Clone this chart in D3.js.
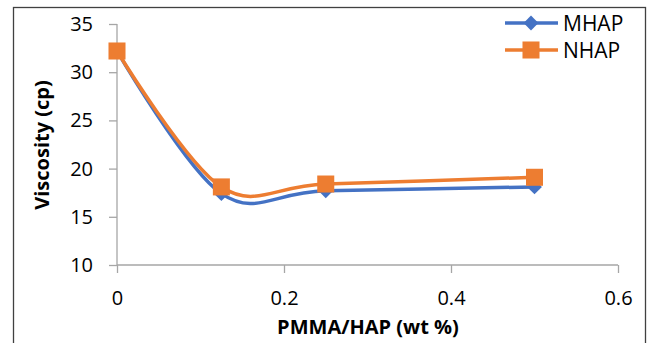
<!DOCTYPE html>
<html>
<head>
<meta charset="utf-8">
<script src="https://d3js.org/d3.v7.min.js"></script>
<style>
  html, body { margin: 0; padding: 0; background: #fff; }
  text { font-family: "Open Sans", sans-serif; }
  .axis path, .axis line { stroke: #a6a6a6; stroke-width: 1.3px; }
  .axis text { font-size: 20px; fill: #000; }
</style>
</head>
<body>
<script>
var xVals = [0, 0.125, 0.25, 0.5];
var mhap = [32.2, 17.4, 17.7, 18.1];
var nhap = [32.2, 18.1, 18.4, 19.1];
var seriesNames = ["MHAP", "NHAP"];
var colors = ["#4472C4", "#ED7D31"];
var xTicks = [0, 0.2, 0.4, 0.6];
var yTicks = [10, 15, 20, 25, 30, 35];

var W = 651, H = 343;
var svg = d3.select("body").append("svg").attr("width", W).attr("height", H);

svg.append("rect").attr("x", 13.5).attr("y", 7.5).attr("width", 632).attr("height", 345)
  .attr("fill", "none").attr("stroke", "#404040").attr("stroke-width", 1.3);

var x = d3.scaleLinear().domain([0, 0.6]).range([117, 618]);
var y = d3.scaleLinear().domain([10, 35]).range([265, 24]);

var xAxis = svg.append("g").attr("class", "axis").attr("transform", "translate(0,265)")
  .call(d3.axisBottom(x).tickValues(xTicks).tickSize(8).tickPadding(18)
    .tickFormat(function(d){ return d === 0 ? "0" : d3.format(".1f")(d); }));
xAxis.select(".domain").attr("d", "M" + x(0) + ",0H" + x(0.6));

var yAxis = svg.append("g").attr("class", "axis").attr("transform", "translate(117,0)")
  .call(d3.axisLeft(y).tickValues(yTicks).tickSize(8).tickPadding(16));
yAxis.select(".domain").attr("d", "M0," + y(10) + "V" + y(35));

var line = d3.line().x(function(d){ return x(d[0]); }).y(function(d){ return y(d[1]); })
  .curve(d3.curveCardinal.tension(0));

function marker(i) {
  return i === 0 ? d3.symbol().type(d3.symbolDiamond2).size(140)()
                 : d3.symbol().type(d3.symbolSquare).size(290)();
}

var data = [mhap, nhap];
data.forEach(function(vals, i) {
  var pts = xVals.map(function(v, j){ return [v, vals[j]]; });
  svg.append("path").attr("d", line(pts)).attr("fill", "none")
    .attr("stroke", colors[i]).attr("stroke-width", 3.5);
});
data.forEach(function(vals, i) {
  var pts = xVals.map(function(v, j){ return [v, vals[j]]; });
  svg.selectAll(null).data(pts).enter().append("path")
    .attr("transform", function(d){ return "translate(" + x(d[0]) + "," + y(d[1]) + ")"; })
    .attr("d", marker(i))
    .attr("fill", colors[i]);
});

// legend
seriesNames.forEach(function(name, i) {
  var ly = 23 + i * 27;
  svg.append("line").attr("x1", 505).attr("x2", 558).attr("y1", ly).attr("y2", ly)
    .attr("stroke", colors[i]).attr("stroke-width", 3.5);
  svg.append("path").attr("transform", "translate(531," + ly + ")")
    .attr("d", marker(i)).attr("fill", colors[i]);
  svg.append("text").attr("x", 563).attr("y", ly).attr("dy", "0.36em")
    .attr("font-size", 21).text(name);
});

svg.append("text").attr("x", 368).attr("y", 334).attr("text-anchor", "middle")
  .attr("font-size", 20).attr("font-weight", "bold").text("PMMA/HAP (wt %)");
svg.append("text").attr("transform", "translate(49,145) rotate(-90)").attr("text-anchor", "middle")
  .attr("font-size", 20).attr("font-weight", "bold").text("Viscosity (cp)");
</script>
</body>
</html>
